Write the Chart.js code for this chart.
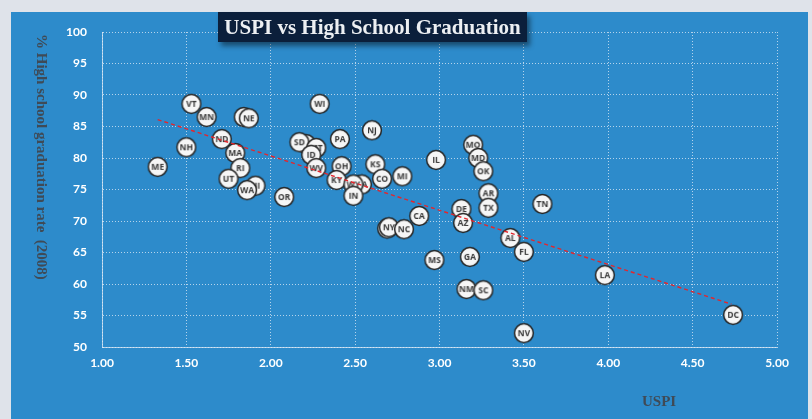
<!DOCTYPE html>
<html>
<head>
<meta charset="utf-8">
<script src="https://cdn.jsdelivr.net/npm/chart.js@4.4.1/dist/chart.umd.min.js"></script>
<style>
  body { margin: 0; background: #dfe3ea; width: 812px; height: 419px; overflow: hidden; position: relative; }
  #panel { position: absolute; left: 11px; top: 12px; width: 797px; height: 407px; background: #2d8bcb; }
  #wrap { position: absolute; left: 0; top: 0; width: 812px; height: 419px; }
  #title { position: absolute; left: 218px; top: 12px; width: 309px; height: 30px; background: #0b1f3b;
    color: #eceff2; font: bold 21px "Liberation Serif", serif; text-align: center; line-height: 30px;
    box-shadow: 3px 4px 5px rgba(0,0,0,0.45); z-index: 2; }
  #ytitle { position: absolute; left: 33px; top: 34px; height: 256px; writing-mode: vertical-rl;
    font: bold 15px "Liberation Serif", serif; color: #3f4a56; white-space: pre; }
  #xtitle { position: absolute; left: 642px; top: 393px; font: bold 15px "Liberation Serif", serif; color: #3f4a56; }
</style>
</head>
<body>
<div id="panel"></div>
<div id="wrap"><canvas id="canvas" width="812" height="419"></canvas></div>
<div id="title">USPI vs High School Graduation</div>
<div id="ytitle">% High school graduation rate  (2008)</div>
<div id="xtitle">USPI</div>
<script>
// hidden (overlapped) states first so the visible ones sit on top
var states = ['IA','HI','CT','VA','AK',
  'VT','MN','NE','ND','NH','MA','ME','RI','UT','WA','OR',
  'WI','SD','MT','ID','PA','WV','OH','KY','WY','IN',
  'NJ','KS','CO','MI','IL','CA','NY','NC',
  'MO','MD','OK','AR','TX','TN','DE','AZ','AL','FL',
  'MS','GA','NM','SC','NV','LA','DC'];
var uspi = [1.84,1.91,2.21,2.54,2.69,
  1.53,1.62,1.87,1.71,1.50,1.79,1.33,1.82,1.75,1.86,2.08,
  2.29,2.17,2.27,2.24,2.41,2.27,2.42,2.39,2.49,2.49,
  2.60,2.62,2.66,2.78,2.98,2.88,2.70,2.79,
  3.20,3.23,3.26,3.29,3.29,3.61,3.13,3.14,3.42,3.50,
  2.97,3.18,3.16,3.26,3.50,3.98,4.74];
var gradRate = [86.5,75.6,82.2,75.8,68.8,
  88.6,86.5,86.3,83.0,81.7,80.8,78.6,78.4,76.7,74.9,73.8,
  88.6,82.5,81.6,80.5,83.0,78.4,78.7,76.5,75.8,74.0,
  84.4,79.0,76.7,77.1,79.7,70.8,69.0,68.7,
  82.1,80.0,77.9,74.4,72.1,72.7,71.9,69.7,67.3,65.1,
  63.8,64.3,59.2,59.0,52.2,61.4,55.1];
var trendX = [1.33, 4.73];
var trendY = [86.1, 56.8];
var xTicks = [1, 1.5, 2, 2.5, 3, 3.5, 4, 4.5, 5];

// white disc with the state code, used as the point style
function badge(txt) {
  var c = document.createElement('canvas');
  c.width = 22; c.height = 22;
  var g = c.getContext('2d');
  g.beginPath();
  g.arc(11, 11, 9.4, 0, Math.PI * 2);
  g.fillStyle = '#f6f6f6';
  g.fill();
  g.lineWidth = 1.5;
  g.strokeStyle = '#262626';
  g.stroke();
  g.fillStyle = '#383838';
  g.font = 'bold 8.5px "Open Sans", sans-serif';
  g.textAlign = 'center';
  g.textBaseline = 'middle';
  g.fillText(txt, 11, 11.5);
  return c;
}

var points = [];
for (var i = 0; i < states.length; i++) {
  points.push({ x: uspi[i], y: gradRate[i] });
}
var trend = [];
for (var j = 0; j < trendX.length; j++) {
  trend.push({ x: trendX[j], y: trendY[j] });
}

var gridColor = 'rgba(225,235,245,0.75)';
var tickFont = { family: 'Lato', size: 12, weight: 'bold' };

window.onload = function() {
  var ctx = document.getElementById('canvas').getContext('2d');
  window.myChart = new Chart(ctx, {
    type: 'scatter',
    data: {
      datasets: [{
        label: 'Trend',
        type: 'line',
        data: trend,
        borderColor: '#e3262d',
        borderWidth: 1.4,
        borderDash: [4, 3],
        pointRadius: 0,
        fill: false,
        order: 0
      }, {
        label: 'States',
        data: points,
        pointStyle: states.map(badge),
        pointRadius: 10,
        order: 1
      }]
    },
    options: {
      responsive: false,
      animation: false,
      layout: { padding: { left: 0, top: 32, right: 35, bottom: 0 } },
      plugins: { legend: { display: false }, tooltip: { enabled: false } },
      scales: {
        x: {
          type: 'linear',
          min: 1, max: 5,
          afterFit: function(s) { s.height = 72; },
          afterBuildTicks: function(s) { s.ticks = xTicks.map(function(v) { return { value: v }; }); },
          ticks: { color: '#ffffff', font: tickFont, padding: 9,
            callback: function(v) { return v.toFixed(2); } },
          grid: { color: gridColor, lineWidth: 1, drawTicks: false },
          border: { color: gridColor, dash: [1, 2] }
        },
        y: {
          min: 50, max: 100,
          afterFit: function(s) { s.width = 102; },
          ticks: { stepSize: 5, color: '#ffffff', font: tickFont, padding: 15 },
          grid: { color: gridColor, lineWidth: 1, drawTicks: false },
          border: { color: gridColor, dash: [1, 2] }
        }
      }
    }
  });
};
</script>
</body>
</html>
